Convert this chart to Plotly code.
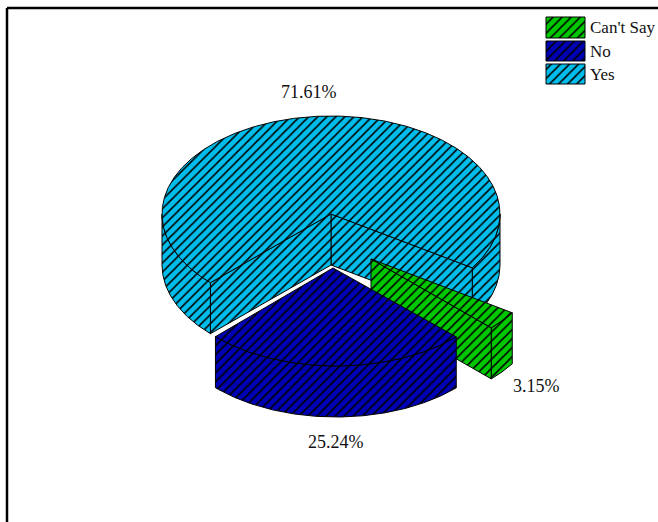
"""
Exploded 3D pie with hatched slices, drawn as projected polygons on a pixel-sized plot.
"""
import numpy as np
import plotly.graph_objects as go

CATEGORIES = ["Yes", "No", "Can't Say"]
SHARES = [71.61, 25.24, 3.15]
SHARE_LABELS = ["71.61%", "25.24%", "3.15%"]
LEGEND_ORDER = ["Can't Say", "No", "Yes"]

COLORS = {"Yes": "#00BDEB", "No": "#0000B4", "Can't Say": "#00C800"}

WIDTH, HEIGHT = 658, 522
RX, RY, DEPTH = 169, 98, 51
START_ANGLE = 326.7  # where the Yes slice starts, counter-clockwise from +x
CENTERS = {"Yes": (331, 214), "No": (336, 268), "Can't Say": (371, 259)}
NO_APEX = (333, 268)  # the source draws the No tip a little left of its rim centre
LABEL_POS = {"Yes": (309, 92), "No": (336, 442), "Can't Say": (536, 386)}
FONT = "Liberation Serif"


def rim(center, a0, a1, drop=0):
    """Points along the ellipse rim between two angles in degrees."""
    t = np.radians(np.linspace(a0, a1, max(int(abs(a1 - a0)) * 2, 2)))
    return center[0] + RX * np.cos(t), center[1] - RY * np.sin(t) + drop


def add_poly(fig, xs, ys, color, width=1):
    fig.add_trace(
        go.Scatter(
            x=list(xs),
            y=list(ys),
            mode="lines",
            fill="toself",
            fillcolor=color,
            fillpattern=dict(shape="/", size=6.4, solidity=0.24, fgcolor="black", bgcolor=color, fgopacity=1),
            line=dict(color="black", width=width),
            hoverinfo="skip",
            showlegend=False,
        )
    )


def add_outer_wall(fig, center, a0, a1, color):
    x0, y0 = rim(center, a0, a1)
    x1, y1 = rim(center, a0, a1, DEPTH)
    add_poly(fig, np.r_[x0, x1[::-1], x0[0]], np.r_[y0, y1[::-1], y0[0]], color)


def add_cut_wall(fig, center, angle, color):
    x, y = rim(center, angle, angle)
    cx, cy = center
    add_poly(fig, [cx, x[0], x[0], cx, cx], [cy, y[0], y[0] + DEPTH, cy + DEPTH, cy], color)


def add_top(fig, center, a0, a1, color, apex=None):
    x, y = rim(center, a0, a1)
    ax, ay = apex or center
    add_poly(fig, np.r_[ax, x, ax], np.r_[ay, y, ay], color)


# slice angles follow from the shares
spans = {c: s * 3.6 for c, s in zip(CATEGORIES, SHARES)}
yes_a0 = START_ANGLE
yes_a1 = yes_a0 + spans["Yes"]
no_a0 = yes_a1
no_a1 = no_a0 + spans["No"]
cs_a0 = no_a1
cs_a1 = cs_a0 + spans["Can't Say"]

fig = go.Figure()

# Yes: outer walls, then the walls of the notch, then the top face
c = CENTERS["Yes"]
col = COLORS["Yes"]
add_outer_wall(fig, c, yes_a0, 360, col)
add_outer_wall(fig, c, 540, yes_a1, col)
add_cut_wall(fig, c, yes_a0, col)
add_cut_wall(fig, c, yes_a1, col)
add_top(fig, c, yes_a0, yes_a1, col)

# Can't Say sits behind No
c = CENTERS["Can't Say"]
col = COLORS["Can't Say"]
add_outer_wall(fig, c, cs_a0, cs_a1, col)
add_cut_wall(fig, c, cs_a0, col)
add_top(fig, c, cs_a0, cs_a1, col)

c = CENTERS["No"]
col = COLORS["No"]
add_outer_wall(fig, c, no_a0, no_a1, col)
add_top(fig, c, no_a0, no_a1, col, apex=NO_APEX)

# legend keys are taller than plotly's own, so they are drawn here
KEY_X = (546, 585)
KEY_Y = [(17, 38), (41, 61), (64, 84)]
annotations = []
for name, (y0, y1) in zip(LEGEND_ORDER, KEY_Y):
    add_poly(fig, [KEY_X[0], KEY_X[1], KEY_X[1], KEY_X[0], KEY_X[0]], [y0, y0, y1, y1, y0], COLORS[name])
    annotations.append(
        dict(x=588, y=(y0 + y1) / 2, text=name, xanchor="left", yanchor="middle", showarrow=False,
             font=dict(family=FONT, size=17, color="#111111"))
    )

for name, label in zip(CATEGORIES, SHARE_LABELS):
    x, y = LABEL_POS[name]
    annotations.append(
        dict(x=x, y=y, text=label, xanchor="center", yanchor="middle", showarrow=False,
             font=dict(family=FONT, size=18, color="#111111"))
    )

fig.update_layout(
    width=WIDTH,
    height=HEIGHT,
    margin=dict(l=0, r=0, t=0, b=0),
    paper_bgcolor="white",
    plot_bgcolor="white",
    showlegend=False,
    annotations=annotations,
    xaxis=dict(range=[0, WIDTH], visible=False, fixedrange=True),
    yaxis=dict(range=[HEIGHT, 0], visible=False, fixedrange=True),
    shapes=[
        dict(type="line", x0=7, x1=7, y0=8, y1=HEIGHT, line=dict(color="black", width=2.5)),
        dict(type="line", x0=7, x1=WIDTH, y0=8, y1=8, line=dict(color="black", width=2.5)),
    ],
)

# the page's default body margin would push the plot 8px off
fig.write_html("out.html", config={"displayModeBar": False},
               post_script="document.body.style.margin='0';")
